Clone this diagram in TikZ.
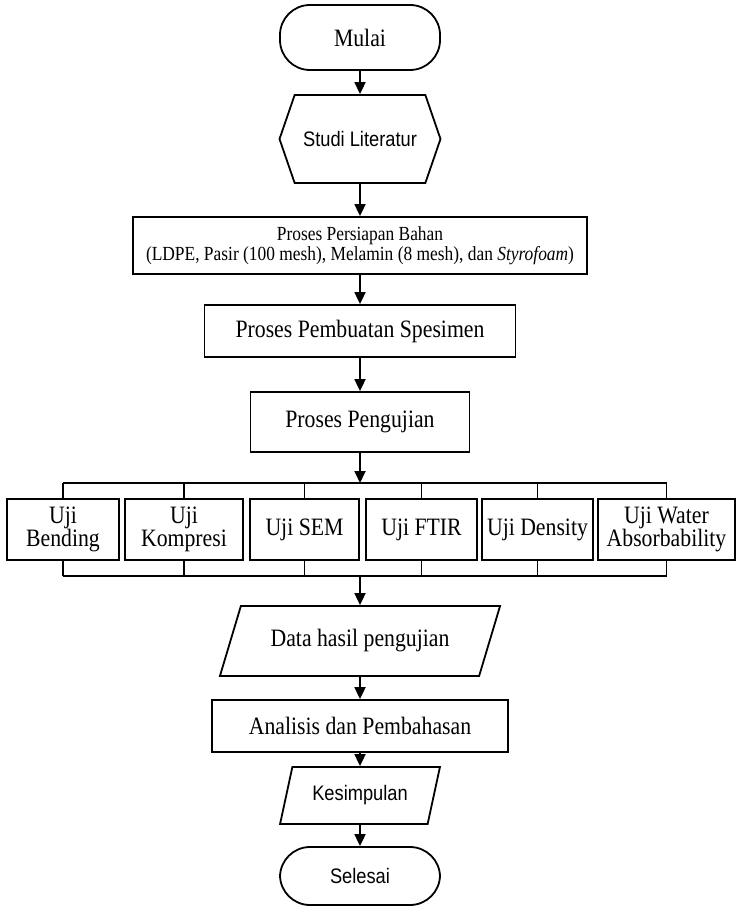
\documentclass[tikz,border=0pt]{standalone}
\usepackage{fontspec}
\setmainfont{Liberation Serif}[FakeStretch=0.87]
\setsansfont{Liberation Sans}[FakeStretch=0.87]
\usepackage{tikz}
\usetikzlibrary{arrows.meta,shapes.geometric,shapes.symbols}

\begin{document}
\begin{tikzpicture}[x=1pt,y=-1pt,line width=1.8pt,
	font=\fontsize{25}{23}\selectfont,
	kotak/.style={draw,rectangle,inner sep=2pt,align=center},
	terminal/.style={draw,rectangle,rounded corners=30pt,inner sep=2pt,minimum width=160pt,minimum height=63pt,font=\sffamily\fontsize{21}{24}\selectfont},
	persiapan/.style={draw,signal,signal to=west and east,signal pointer angle=142,inner sep=2pt,minimum width=161pt,minimum height=88pt,font=\sffamily\fontsize{21}{24}\selectfont},
	dataio/.style={draw,trapezium,trapezium stretches=true,trapezium left angle=#1,trapezium right angle=180-#1,inner sep=2pt},
	panah/.style={-{Triangle[length=12pt,width=11pt]}}]
	\useasboundingbox (0,0) rectangle (737,907);
	% alur utama
	\node[terminal,minimum height=65pt,font=\fontsize{25}{28}\selectfont] (mulai) at (360,37.5){Mulai};
	\node[persiapan] (studi) at (360,139){Studi Literatur};
	\node[kotak,minimum width=454pt,minimum height=57pt,font=\fontsize{20}{20}\selectfont] (bahan) at (360,245.5){Proses Persiapan Bahan\\(LDPE, Pasir (100 mesh), Melamin (8 mesh), dan \textit{Styrofoam})};
	\node[kotak,minimum width=311pt,minimum height=52pt] (spesimen) at (360,331){Proses Pembuatan Spesimen};
	\node[kotak,minimum width=219pt,minimum height=60pt] (uji) at (360,422){Proses Pengujian};
	% jenis pengujian
	\node[kotak,minimum width=112pt,minimum height=61pt] (bend) at (63,529.5){Uji\\Bending};
	\node[kotak,minimum width=118pt,minimum height=61pt] (komp) at (184,529.5){Uji\\Kompresi};
	\node[kotak,minimum width=109pt,minimum height=61pt] (sem) at (304.5,529.5){Uji SEM};
	\node[kotak,minimum width=111pt,minimum height=61pt] (ftir) at (421.5,529.5){Uji FTIR};
	\node[kotak,minimum width=111pt,minimum height=61pt] (dens) at (537.5,529.5){Uji Density};
	\node[kotak,minimum width=137pt,minimum height=61pt] (water) at (666.5,529.5){Uji Water\\Absorbability};
	\coordinate (busatas) at (360,483);
	\coordinate (busbawah) at (360,576);
	% hasil
	\node[dataio=59,minimum width=281pt,minimum height=70pt] (data) at (360,641){Data hasil pengujian};
	\node[kotak,minimum width=296pt,minimum height=52pt] (analisis) at (360,726){Analisis dan Pembahasan};
	\node[dataio=69,minimum width=160pt,minimum height=57pt,font=\sffamily\fontsize{21}{24}\selectfont] (simpul) at (360,795.5){Kesimpulan};
	\node[terminal,minimum height=58pt,minimum width=160pt] (selesai) at (360,876){Selesai};
	% panah
	\draw[panah](mulai)--(studi);
	\draw[panah](studi)--(bahan);
	\draw[panah](bahan)--(spesimen);
	\draw[panah](spesimen)--(uji);
	\draw[panah](uji)--(busatas);
	\draw(bend.north|-busatas)--(water.north|-busatas);
	\draw(bend.south|-busbawah)--(water.south|-busbawah);
	\foreach \n in {bend,komp,sem,ftir,dens,water}{
		\draw(\n.north)--(\n.north|-busatas);
		\draw(\n.south)--(\n.south|-busbawah);
	}
	\draw[panah](busbawah)--(data);
	\draw[panah](data)--(analisis);
	\draw[panah](analisis)--(simpul);
	\draw[panah](simpul)--(selesai);
\end{tikzpicture}
\end{document}
